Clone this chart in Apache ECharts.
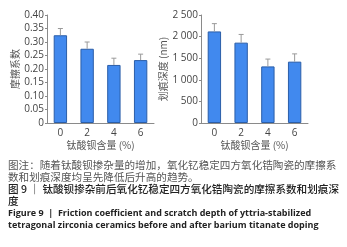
<!DOCTYPE html>
<html>
<head>
<meta charset="utf-8">
<script src="https://cdn.jsdelivr.net/npm/echarts@6/dist/echarts.min.js"></script>
<style>
  html, body { margin: 0; padding: 0; background: #fff; }
  #main { width: 347px; height: 247px; }
</style>
</head>
<body>
<div id="main"></div>
<script>
const categories = ["0", "2", "4", "6"];
const friction = [0.325, 0.275, 0.215, 0.233];
const frictionErr = [0.35, 0.30, 0.24, 0.255];
const depth = [2120, 1860, 1310, 1420];
const depthErr = [2300, 2050, 1480, 1600];
const frictionTicks = ["0", "0.05", "0.10", "0.15", "0.20", "0.25", "0.30", "0.35", "0.40"];
const depthTicks = ["0", "500", "1 000", "1 500", "2 000", "2 500"];

const captionLines = [
  "图注：随着钛酸钡掺杂量的增加，氧化钇稳定四方氧化锆陶瓷的摩擦系",
  "数和划痕深度均呈先降低后升高的趋势。"
];
const titleLines = [
  "图 9 ｜ 钛酸钡掺杂前后氧化钇稳定四方氧化锆陶瓷的摩擦系数和划痕深",
  "度"
];
const englishLines = [
  "Figure 9  |  Friction coefficient and scratch depth of yttria-stabilized",
  "tetragonal zirconia ceramics before and after barium titanate doping"
];

const cjk = '"Noto Sans CJK SC", sans-serif';
const axisGrey = "#8a8a8a";
const labelColor = "#444";

// error bar: vertical stick from bar top up to err value, with short cap
function errorRender(vals, errs) {
  return function (params, api) {
    const i = api.value(0);
    const top = api.coord([i, errs[i]]);
    const base = api.coord([i, vals[i]]);
    const half = 2.5;
    return {
      type: "group",
      children: [
        { type: "line", shape: { x1: top[0], y1: top[1], x2: base[0], y2: base[1] },
          style: { stroke: "#9a9a9a", lineWidth: 1 } },
        { type: "line", shape: { x1: top[0] - half, y1: top[1], x2: top[0] + half, y2: top[1] },
          style: { stroke: "#9a9a9a", lineWidth: 1 } }
      ]
    };
  };
}

function xAxisFor(idx) {
  return {
    type: "category",
    gridIndex: idx,
    data: categories,
    name: "钛酸钡含量 (%)",
    nameLocation: "middle",
    nameGap: 17,
    nameTextStyle: { fontFamily: cjk, fontSize: 10, color: "#555" },
    axisLine: { lineStyle: { color: axisGrey } },
    axisTick: { length: 3, lineStyle: { color: axisGrey } },
    axisLabel: { fontFamily: "Open Sans", fontSize: 10, color: labelColor, margin: 5 }
  };
}

function barSeries(idx, vals) {
  return {
    type: "bar",
    xAxisIndex: idx,
    yAxisIndex: idx,
    data: vals,
    barWidth: "50%",
    itemStyle: { color: "#4189ee", borderColor: "#2b5ea8", borderWidth: 1 },
    z: 2
  };
}

const chart = echarts.init(document.getElementById("main"), null, { renderer: "canvas" });

const graphics = [];
captionLines.forEach((t, k) => graphics.push({
  type: "text", left: 8, top: 160 + k * 12,
  style: { text: t, font: '10.6px "Noto Sans CJK SC"', fill: "#555" }
}));
titleLines.forEach((t, k) => graphics.push({
  type: "text", left: 8, top: 184 + k * 12,
  style: { text: t, font: '500 10.6px "Noto Sans CJK SC"', fill: "#222" }
}));
englishLines.forEach((t, k) => graphics.push({
  type: "text", left: 8, top: 209 + k * 12,
  style: { text: t, font: 'bold 9px "Open Sans"', fill: "#222" }
}));

chart.setOption({
  animation: false,
  backgroundColor: "#fff",
  grid: [
    { left: 47, top: 15, width: 107, height: 108 },
    { left: 201, top: 15, width: 107, height: 108 }
  ],
  xAxis: [xAxisFor(0), xAxisFor(1)],
  yAxis: [
    {
      type: "value", gridIndex: 0, min: 0, max: 0.4, interval: 0.05,
      name: "摩擦系数", nameLocation: "middle", nameGap: 23,
      nameTextStyle: { fontFamily: cjk, fontSize: 10, color: "#555" },
      axisLine: { show: true, lineStyle: { color: axisGrey } },
      axisTick: { show: true, length: 2, lineStyle: { color: axisGrey } },
      splitLine: { show: false },
      axisLabel: {
        fontFamily: "Open Sans", fontSize: 10, color: labelColor, margin: 3,
        formatter: (v) => frictionTicks[Math.round(v / 0.05)]
      }
    },
    {
      type: "value", gridIndex: 1, min: 0, max: 2500, interval: 500,
      name: "划痕深度 (nm)", nameLocation: "middle", nameGap: 30,
      nameTextStyle: { fontFamily: cjk, fontSize: 10, color: "#555" },
      axisLine: { show: true, lineStyle: { color: axisGrey } },
      axisTick: { show: true, length: 2, lineStyle: { color: axisGrey } },
      splitLine: { show: false },
      axisLabel: {
        fontFamily: "Open Sans", fontSize: 10, color: labelColor, margin: 3,
        formatter: (v) => depthTicks[Math.round(v / 500)]
      }
    }
  ],
  graphic: graphics,
  series: [
    barSeries(0, friction),
    barSeries(1, depth),
    {
      type: "custom", xAxisIndex: 0, yAxisIndex: 0,
      data: categories.map((c, i) => [i]),
      renderItem: errorRender(friction, frictionErr), z: 3
    },
    {
      type: "custom", xAxisIndex: 1, yAxisIndex: 1,
      data: categories.map((c, i) => [i]),
      renderItem: errorRender(depth, depthErr), z: 3
    }
  ]
});
</script>
</body>
</html>
